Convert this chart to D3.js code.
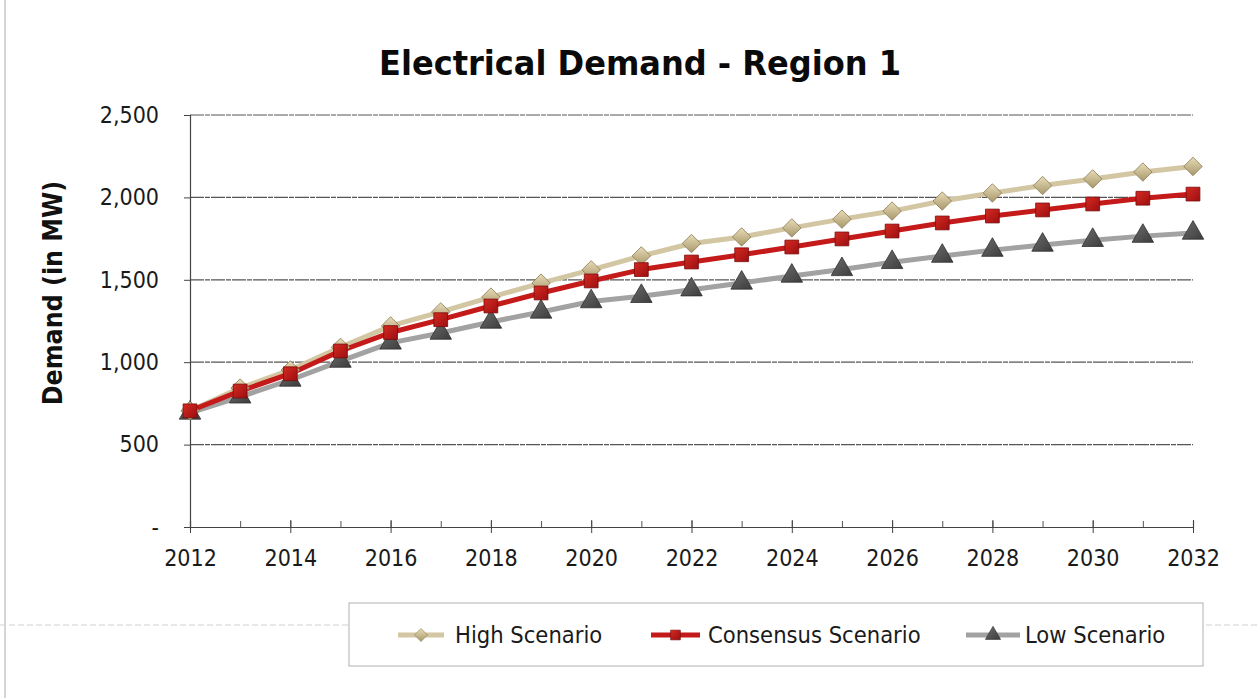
<!DOCTYPE html>
<html>
<head>
<meta charset="utf-8">
<script src="https://cdn.jsdelivr.net/npm/d3@7"></script>
<style>
  html, body { margin: 0; padding: 0; background: #fff; }
  svg { display: block; }
  .cond { font-family: "DejaVu Sans"; font-stretch: condensed; }
</style>
</head>
<body>
<svg id="chart" width="1258" height="698"></svg>
<script>
const years = [2012,2013,2014,2015,2016,2017,2018,2019,2020,2021,2022,2023,2024,2025,2026,2027,2028,2029,2030,2031,2032];
const highScenario = [705,843,953,1090,1220,1305,1395,1480,1560,1645,1720,1760,1815,1868,1917,1978,2027,2072,2112,2154,2188];
const consensusScenario = [705,825,930,1068,1180,1258,1341,1420,1493,1562,1608,1652,1699,1748,1796,1845,1887,1924,1960,1995,2020];
const lowScenario = [692,790,892,1007,1117,1177,1244,1305,1368,1400,1440,1481,1523,1563,1606,1644,1680,1711,1740,1765,1784];
const yTicks = [0,500,1000,1500,2000,2500];
const xTickLabels = [2012,2014,2016,2018,2020,2022,2024,2026,2028,2030,2032];
const seriesNames = ["High Scenario","Consensus Scenario","Low Scenario"];

const svg = d3.select("#chart");
const margin = {left: 190, right: 1193, top: 115, bottom: 527};

const x = d3.scaleLinear().domain([2012, 2032]).range([margin.left, margin.right]);
const y = d3.scaleLinear().domain([0, 2500]).range([margin.bottom, margin.top]);

// outer frame lines (scan borders)
svg.append("line").attr("x1",5).attr("x2",5).attr("y1",0).attr("y2",698).attr("stroke","#c8c8c8").attr("stroke-width",1.5);
svg.append("line").attr("x1",0).attr("x2",1258).attr("y1",625).attr("y2",625).attr("stroke","#d0d0d0").attr("stroke-width",1).attr("stroke-dasharray","6,3");

// title
svg.append("text").attr("class","cond").attr("x", 640).attr("y", 75).attr("text-anchor","middle")
  .attr("font-weight","bold").attr("font-size",33)
  .attr("textLength", 522).attr("lengthAdjust","spacingAndGlyphs")
  .attr("fill","#0a0a0a").text("Electrical Demand - Region 1");

// gridlines
svg.append("g").selectAll("line").data(yTicks.filter(d => d > 0)).join("line")
  .attr("x1", margin.left).attr("x2", margin.right)
  .attr("y1", d => y(d)).attr("y2", d => y(d))
  .attr("stroke","#555").attr("stroke-width",1.2).attr("stroke-dasharray","14,1,5,1");

// y axis
const yAxis = d3.axisLeft(y).tickValues(yTicks).tickSize(6).tickPadding(25)
  .tickFormat(d => d === 0 ? "-" : d3.format(",")(d));
const gy = svg.append("g").attr("transform",`translate(${margin.left},0)`).call(yAxis);
gy.select(".domain").attr("stroke","#444").attr("stroke-width",1.2);
gy.selectAll(".tick line").attr("stroke","#444");
gy.selectAll("text").attr("class","cond").attr("font-family",null).attr("font-size",23).attr("fill","#1a1a1a");

// x axis: minor ticks every year, labels every two
const xAxisMinor = d3.axisBottom(x).tickValues(years).tickSize(-6).tickFormat("");
const gxm = svg.append("g").attr("transform",`translate(0,${margin.bottom})`).call(xAxisMinor);
gxm.select(".domain").attr("stroke","#444").attr("stroke-width",1.2);
gxm.selectAll(".tick line").attr("stroke","#555");
const xAxis = d3.axisBottom(x).tickValues(xTickLabels).tickSize(6).tickPadding(17).tickFormat(d3.format("d"));
const gx = svg.append("g").attr("transform",`translate(0,${margin.bottom})`).call(xAxis);
gx.select(".domain").remove();
gx.selectAll(".tick line").attr("stroke","#444").attr("y1",-7);
gx.selectAll("text").attr("class","cond").attr("font-family",null).attr("font-size",23).attr("fill","#1a1a1a");

// y axis title
svg.append("text").attr("class","cond").attr("transform","translate(62,293) rotate(-90)").attr("text-anchor","middle")
  .attr("font-weight","bold").attr("font-size",26.5)
  .attr("fill","#111").text("Demand (in MW)");

// gradients for markers
const defs = svg.append("defs");
function grad(id, c1, c2) {
  const g = defs.append("linearGradient").attr("id",id).attr("x1","0").attr("y1","0").attr("x2","1").attr("y2","1");
  g.append("stop").attr("offset","0%").attr("stop-color",c1);
  g.append("stop").attr("offset","100%").attr("stop-color",c2);
}
grad("gHigh","#e8dcb8","#a8976a");
grad("gCons","#d42a22","#9c0f10");
grad("gLow","#6e6e6e","#3c3c3c");

const series = [
  {name: seriesNames[0], values: highScenario, line: "#d3c6a2", fill: "url(#gHigh)", stroke:"#8e7e58", sym: d3.symbolSquare, size: 170, rot: 45},
  {name: seriesNames[1], values: consensusScenario, line: "#c41a1a", fill: "url(#gCons)", stroke:"#7a0a0a", sym: d3.symbolSquare, size: 190, rot: 0},
  {name: seriesNames[2], values: lowScenario, line: "#a2a2a2", fill: "url(#gLow)", stroke:"#2e2e2e", sym: d3.symbolTriangle, size: 200, rot: 0}
];

const line = d3.line().x((d,i) => x(years[i])).y(d => y(d));

[series[2], series[0], series[1]].forEach(s => {
  svg.append("path").datum(s.values).attr("d", line)
    .attr("fill","none").attr("stroke", s.line).attr("stroke-width",5).attr("stroke-linejoin","round");
});
[series[2], series[0], series[1]].forEach(s => {
  svg.append("g").selectAll("path").data(s.values).join("path")
    .attr("transform",(d,i) => `translate(${x(years[i])},${y(d)}) rotate(${s.rot})`)
    .attr("d", d3.symbol().type(s.sym).size(s.size))
    .attr("fill", s.fill).attr("stroke", s.stroke).attr("stroke-width",0.8);
});

// legend
svg.append("rect").attr("x",349).attr("y",603).attr("width",854).attr("height",63)
  .attr("fill","#fff").attr("stroke","#b0b0b0").attr("stroke-width",1);
const legendX = [[398,444,455],[651,700,708],[966,1020,1025]];
series.forEach((s,i) => {
  const [lx1,lx2,tx] = legendX[i];
  const cy = 635;
  svg.append("line").attr("x1",lx1).attr("x2",lx2).attr("y1",cy).attr("y2",cy)
    .attr("stroke",s.line).attr("stroke-width",5);
  svg.append("path").attr("transform",`translate(${(lx1+lx2)/2},${cy}) rotate(${s.rot})`)
    .attr("d", d3.symbol().type(s.sym).size(s.size*0.5))
    .attr("fill", s.fill).attr("stroke", s.stroke).attr("stroke-width",0.6);
  svg.append("text").attr("class","cond").attr("x",tx).attr("y",cy+8)
    .attr("font-size",23.5).attr("fill","#1a1a1a").text(s.name);
});
</script>
</body>
</html>
